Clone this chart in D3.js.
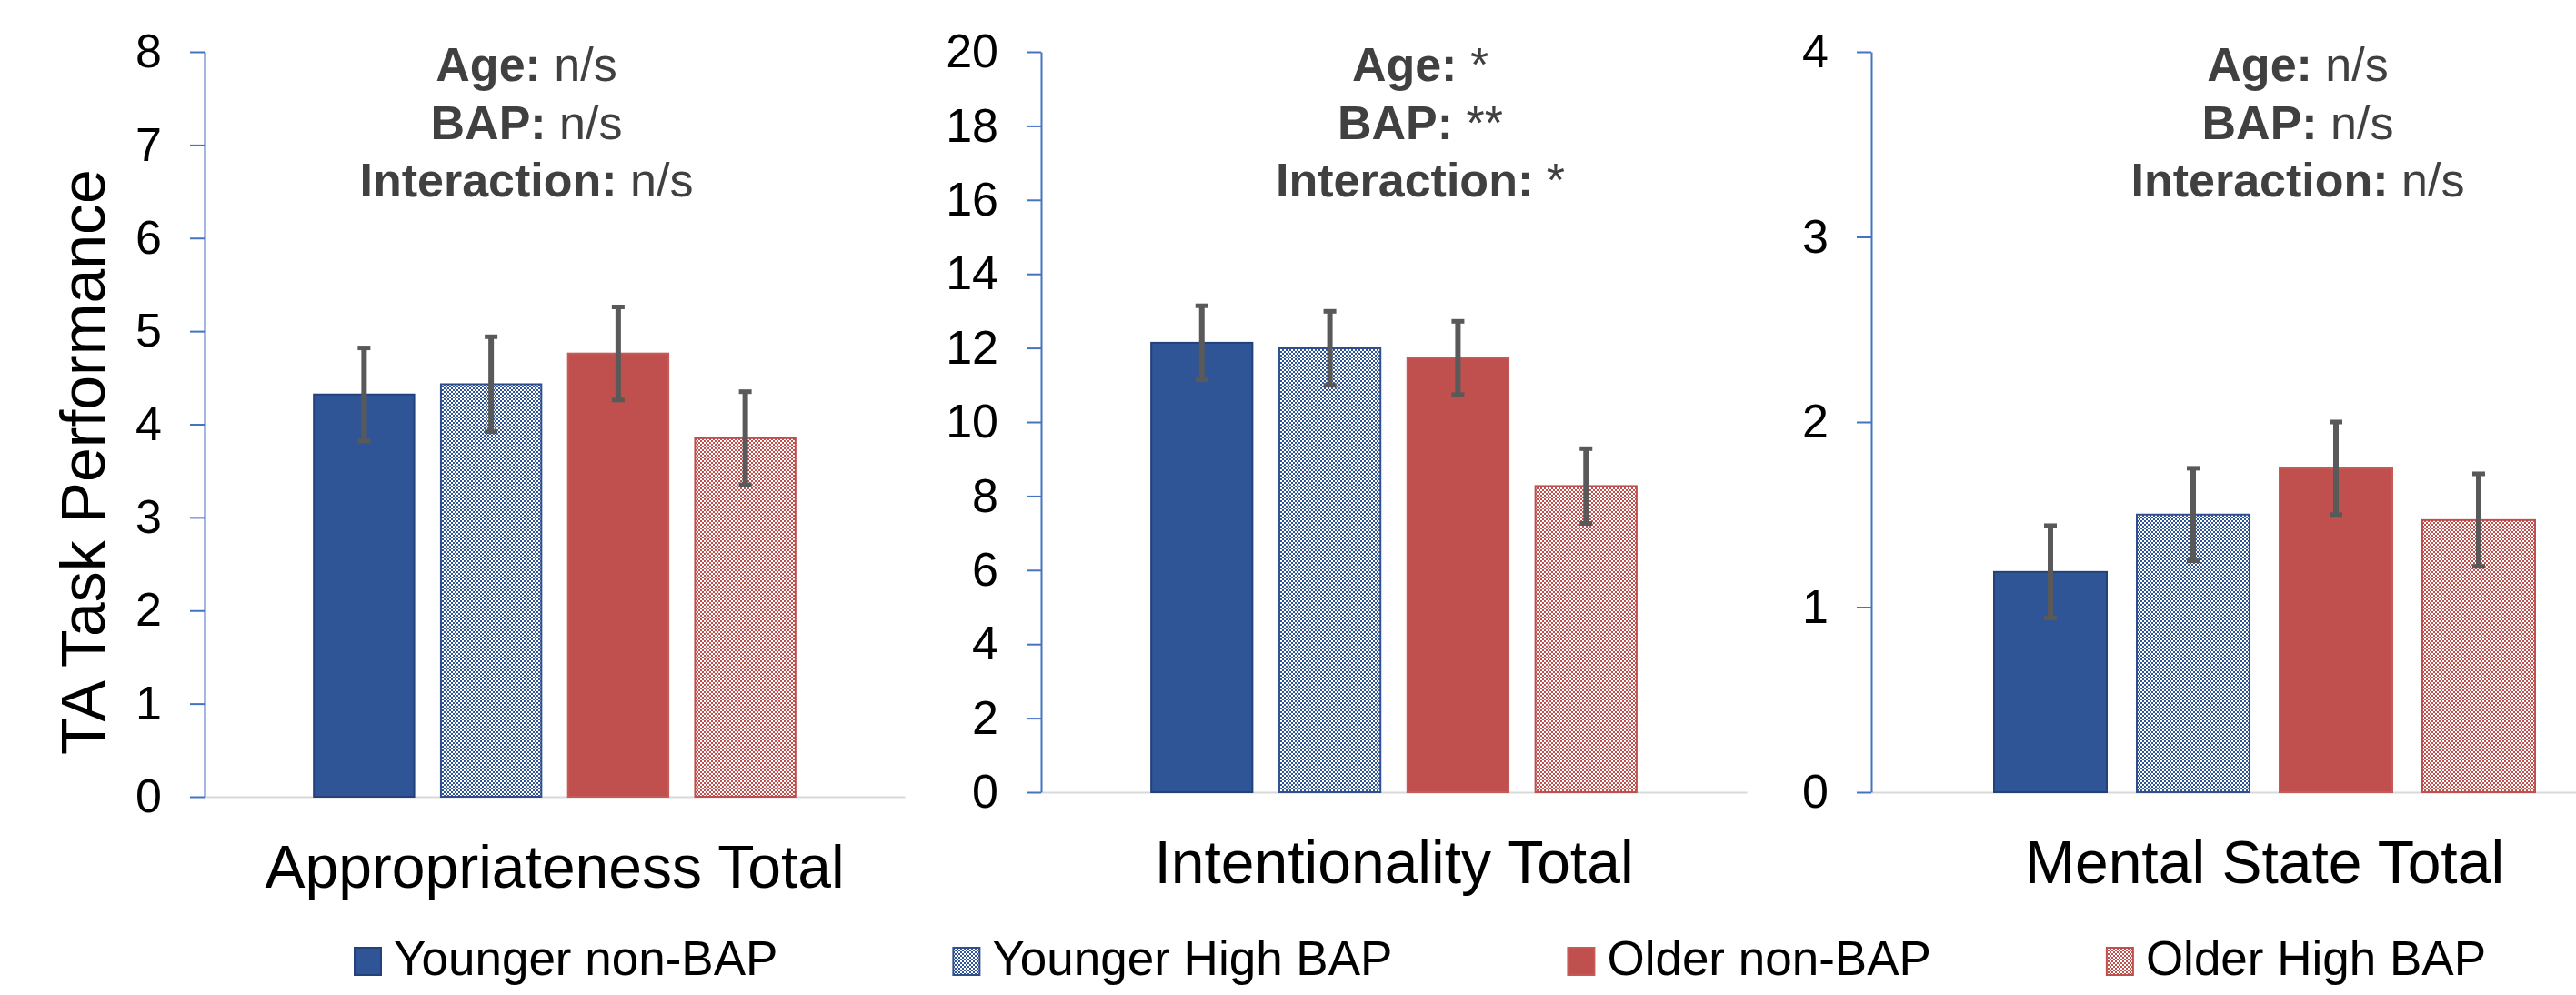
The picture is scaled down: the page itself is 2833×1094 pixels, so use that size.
<!DOCTYPE html>
<html>
<head>
<meta charset="utf-8">
<script src="https://cdn.jsdelivr.net/npm/d3@7"></script>
<style>
  body { margin: 0; background: #fff; }
  svg { display: block; font-family: "Liberation Sans", Arial, sans-serif; }
</style>
</head>
<body>
<div id="chart"></div>
<script>
// data
var categories = ["Appropriateness Total", "Intentionality Total", "Mental State Total"];
var groups = ["Younger non-BAP", "Younger High BAP", "Older non-BAP", "Older High BAP"];

var appropriatenessMeans = [4.32, 4.43, 4.76, 3.85];
var appropriatenessErr = [0.50, 0.51, 0.50, 0.50];
var intentionalityMeans = [12.14, 11.99, 11.73, 8.27];
var intentionalityErr = [1.00, 1.00, 0.99, 1.01];
var mentalStateMeans = [1.19, 1.50, 1.75, 1.47];
var mentalStateErr = [0.25, 0.25, 0.25, 0.25];

var yMaxes = [8, 20, 4];
var yTickSteps = [1, 2, 1];

var effects = ["Age", "BAP", "Interaction"];
var appropriatenessSig = ["n/s", "n/s", "n/s"];
var intentionalitySig = ["*", "**", "*"];
var mentalStateSig = ["n/s", "n/s", "n/s"];

var means = [appropriatenessMeans, intentionalityMeans, mentalStateMeans];
var errs = [appropriatenessErr, intentionalityErr, mentalStateErr];
var sigs = [appropriatenessSig, intentionalitySig, mentalStateSig];

// layout
var W = 2833, H = 1094;
var yTop = 57;
var panels = [
    { axisX: 225, right: 995, y0: 876, noteX: 579 },
    { axisX: 1145, right: 1921, y0: 871, noteX: 1562 },
    { axisX: 2058, right: 2923, y0: 871, noteX: 2527 }
];
var fills = ["#2F5597", "url(#patBlue)", "#C0504D", "url(#patRed)"];
var strokes = ["#23427A", "#2F4F8F", "#C65A57", "#C0504D"];

var svg = d3.select("#chart")
    .append("svg")
    .attr("width", W)
    .attr("height", H);

var defs = svg.append("defs");
function checker(id, color) {
    var p = defs.append("pattern")
        .attr("id", id)
        .attr("patternUnits", "userSpaceOnUse")
        .attr("width", 4)
        .attr("height", 4);
    p.append("rect").attr("width", 4).attr("height", 4).attr("fill", color);
    p.append("rect").attr("x", 0).attr("y", 0).attr("width", 2).attr("height", 2).attr("fill", "#fff");
    p.append("rect").attr("x", 2).attr("y", 2).attr("width", 2).attr("height", 2).attr("fill", "#fff");
}
checker("patBlue", "#2F5597");
checker("patRed", "#C0504D");

categories.forEach(function (cat, i) {
    var p = panels[i];
    var g = svg.append("g");

    var y = d3.scaleLinear()
        .domain([0, yMaxes[i]])
        .range([p.y0, yTop]);

    var x = d3.scaleBand()
        .domain(groups)
        .range([p.axisX, p.right])
        .paddingInner(0.21)
        .paddingOuter(0.86);

    var xCat = d3.scaleBand()
        .domain([cat])
        .range([p.axisX, p.right]);

    // category axis
    var xAxis = g.append("g")
        .attr("transform", "translate(0," + p.y0 + ")")
        .call(d3.axisBottom(xCat).tickSize(0).tickPadding(53));
    xAxis.select(".domain").attr("stroke", "#D9D9D9").attr("stroke-width", 2);
    xAxis.selectAll("text")
        .attr("font-size", 66)
        .attr("fill", "#000");

    // bars
    var rows = groups.map(function (grp, j) {
        return { group: grp, mean: means[i][j], err: errs[i][j], idx: j };
    });

    g.selectAll("rect.bar")
        .data(rows)
        .enter()
        .append("rect")
        .attr("class", "bar")
        .attr("x", function (d) { return x(d.group); })
        .attr("y", function (d) { return y(d.mean); })
        .attr("width", x.bandwidth())
        .attr("height", function (d) { return y(0) - y(d.mean); })
        .attr("fill", function (d) { return fills[d.idx]; })
        .attr("stroke", function (d) { return strokes[d.idx]; })
        .attr("stroke-width", 2);

    // error bars
    var eb = g.selectAll("g.err")
        .data(rows)
        .enter()
        .append("g")
        .attr("class", "err")
        .attr("stroke", "#595959");
    eb.append("line")
        .attr("x1", function (d) { return x(d.group) + x.bandwidth() / 2; })
        .attr("x2", function (d) { return x(d.group) + x.bandwidth() / 2; })
        .attr("y1", function (d) { return y(d.mean + d.err); })
        .attr("y2", function (d) { return y(d.mean - d.err); })
        .attr("stroke-width", 6);
    [1, -1].forEach(function (s) {
        eb.append("line")
            .attr("x1", function (d) { return x(d.group) + x.bandwidth() / 2 - 7; })
            .attr("x2", function (d) { return x(d.group) + x.bandwidth() / 2 + 7; })
            .attr("y1", function (d) { return y(d.mean + s * d.err); })
            .attr("y2", function (d) { return y(d.mean + s * d.err); })
            .attr("stroke-width", 5);
    });

    // value axis
    var yAxis = g.append("g")
        .attr("transform", "translate(" + p.axisX + ",0)")
        .call(d3.axisLeft(y)
            .tickValues(d3.range(0, yMaxes[i] + 0.001, yTickSteps[i]))
            .tickFormat(d3.format("d"))
            .tickSize(16)
            .tickSizeOuter(0)
            .tickPadding(31));
    yAxis.select(".domain").attr("stroke", "#4472C4").attr("stroke-width", 2);
    yAxis.selectAll(".tick line").attr("stroke", "#4472C4").attr("stroke-width", 2);
    yAxis.selectAll("text")
        .attr("font-size", 52)
        .attr("fill", "#000");

    // significance notes
    effects.forEach(function (ef, k) {
        var t = g.append("text")
            .attr("x", p.noteX)
            .attr("y", 89 + k * 63.5)
            .attr("text-anchor", "middle")
            .attr("font-size", 52)
            .attr("fill", "#404040");
        t.append("tspan").attr("font-weight", "bold").text(ef + ": ");
        t.append("tspan").text(sigs[i][k]);
    });
});

// y title
svg.append("text")
    .attr("transform", "translate(115,508) rotate(-90)")
    .attr("text-anchor", "middle")
    .attr("font-size", 68)
    .attr("fill", "#000")
    .text("TA Task Performance");

// legend
var legend = svg.append("g");
var lx = 390;
groups.forEach(function (grp, j) {
    legend.append("rect")
        .attr("x", lx)
        .attr("y", 1042)
        .attr("width", 29)
        .attr("height", 30)
        .attr("fill", fills[j])
        .attr("stroke", strokes[j])
        .attr("stroke-width", 2);
    var t = legend.append("text")
        .attr("x", lx + 43)
        .attr("y", 1072)
        .attr("font-size", 53)
        .attr("fill", "#000")
        .text(grp);
    lx = lx + 43 + t.node().getComputedTextLength() + 193;
});
</script>
</body>
</html>
